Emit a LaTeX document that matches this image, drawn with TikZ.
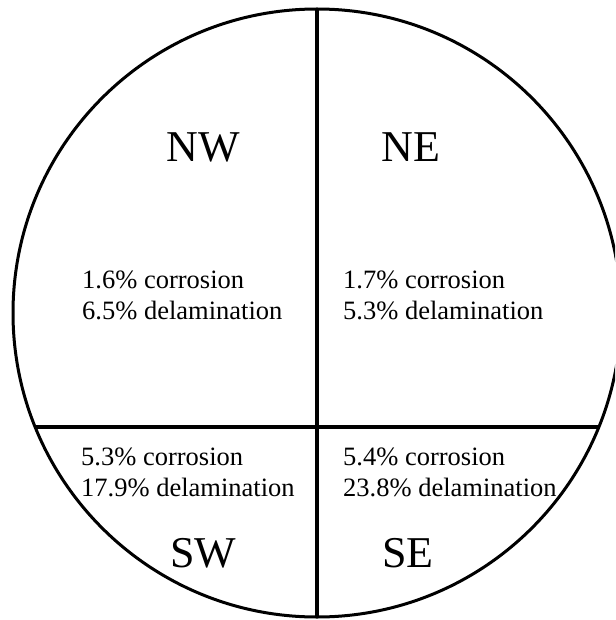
\documentclass[tikz,border=0pt]{standalone}
\usepackage{fontspec}
\setmainfont{Liberation Serif}
\usetikzlibrary{calc}
\tikzset{
  big/.style={font=\fontsize{44}{52}\selectfont, inner sep=0pt},
  small/.style={font=\fontsize{26.5}{31}\selectfont, align=left, anchor=west, inner sep=0pt},
  rim/.style={line width=3pt},
  divider/.style={line width=4pt}
}
\begin{document}
\begin{tikzpicture}[x=1pt,y=-1pt]
\useasboundingbox (0,0) rectangle (615,620);
\begin{scope}
\clip (0,0) rectangle (615,620);
\node[circle, draw, rim, minimum size=608pt, inner sep=0pt, outer sep=0pt] (c) at (317,313) {};
\end{scope}
\draw[divider] (c.north) -- (c.south);
\coordinate (hL) at ($(c.center)+(-281.8,114)$);
\coordinate (hR) at ($(c.center)+(281.8,114)$);
\draw[divider] (hL) -- (hR);
\node[big] (nw) at (203,147) {NW};
\node[big] (ne) at (411,147) {NE};
\node[big] (sw) at (203,553) {SW};
\node[big] (se) at (408,553) {SE};
\node[small] (tnw) at (82,295) {1.6\% corrosion\\6.5\% delamination};
\node[small] (tne) at (343,295) {1.7\% corrosion\\5.3\% delamination};
\node[small] (tsw) at (81,472) {5.3\% corrosion\\17.9\% delamination};
\node[small] (tse) at (343,472) {5.4\% corrosion\\23.8\% delamination};
\end{tikzpicture}
\end{document}
